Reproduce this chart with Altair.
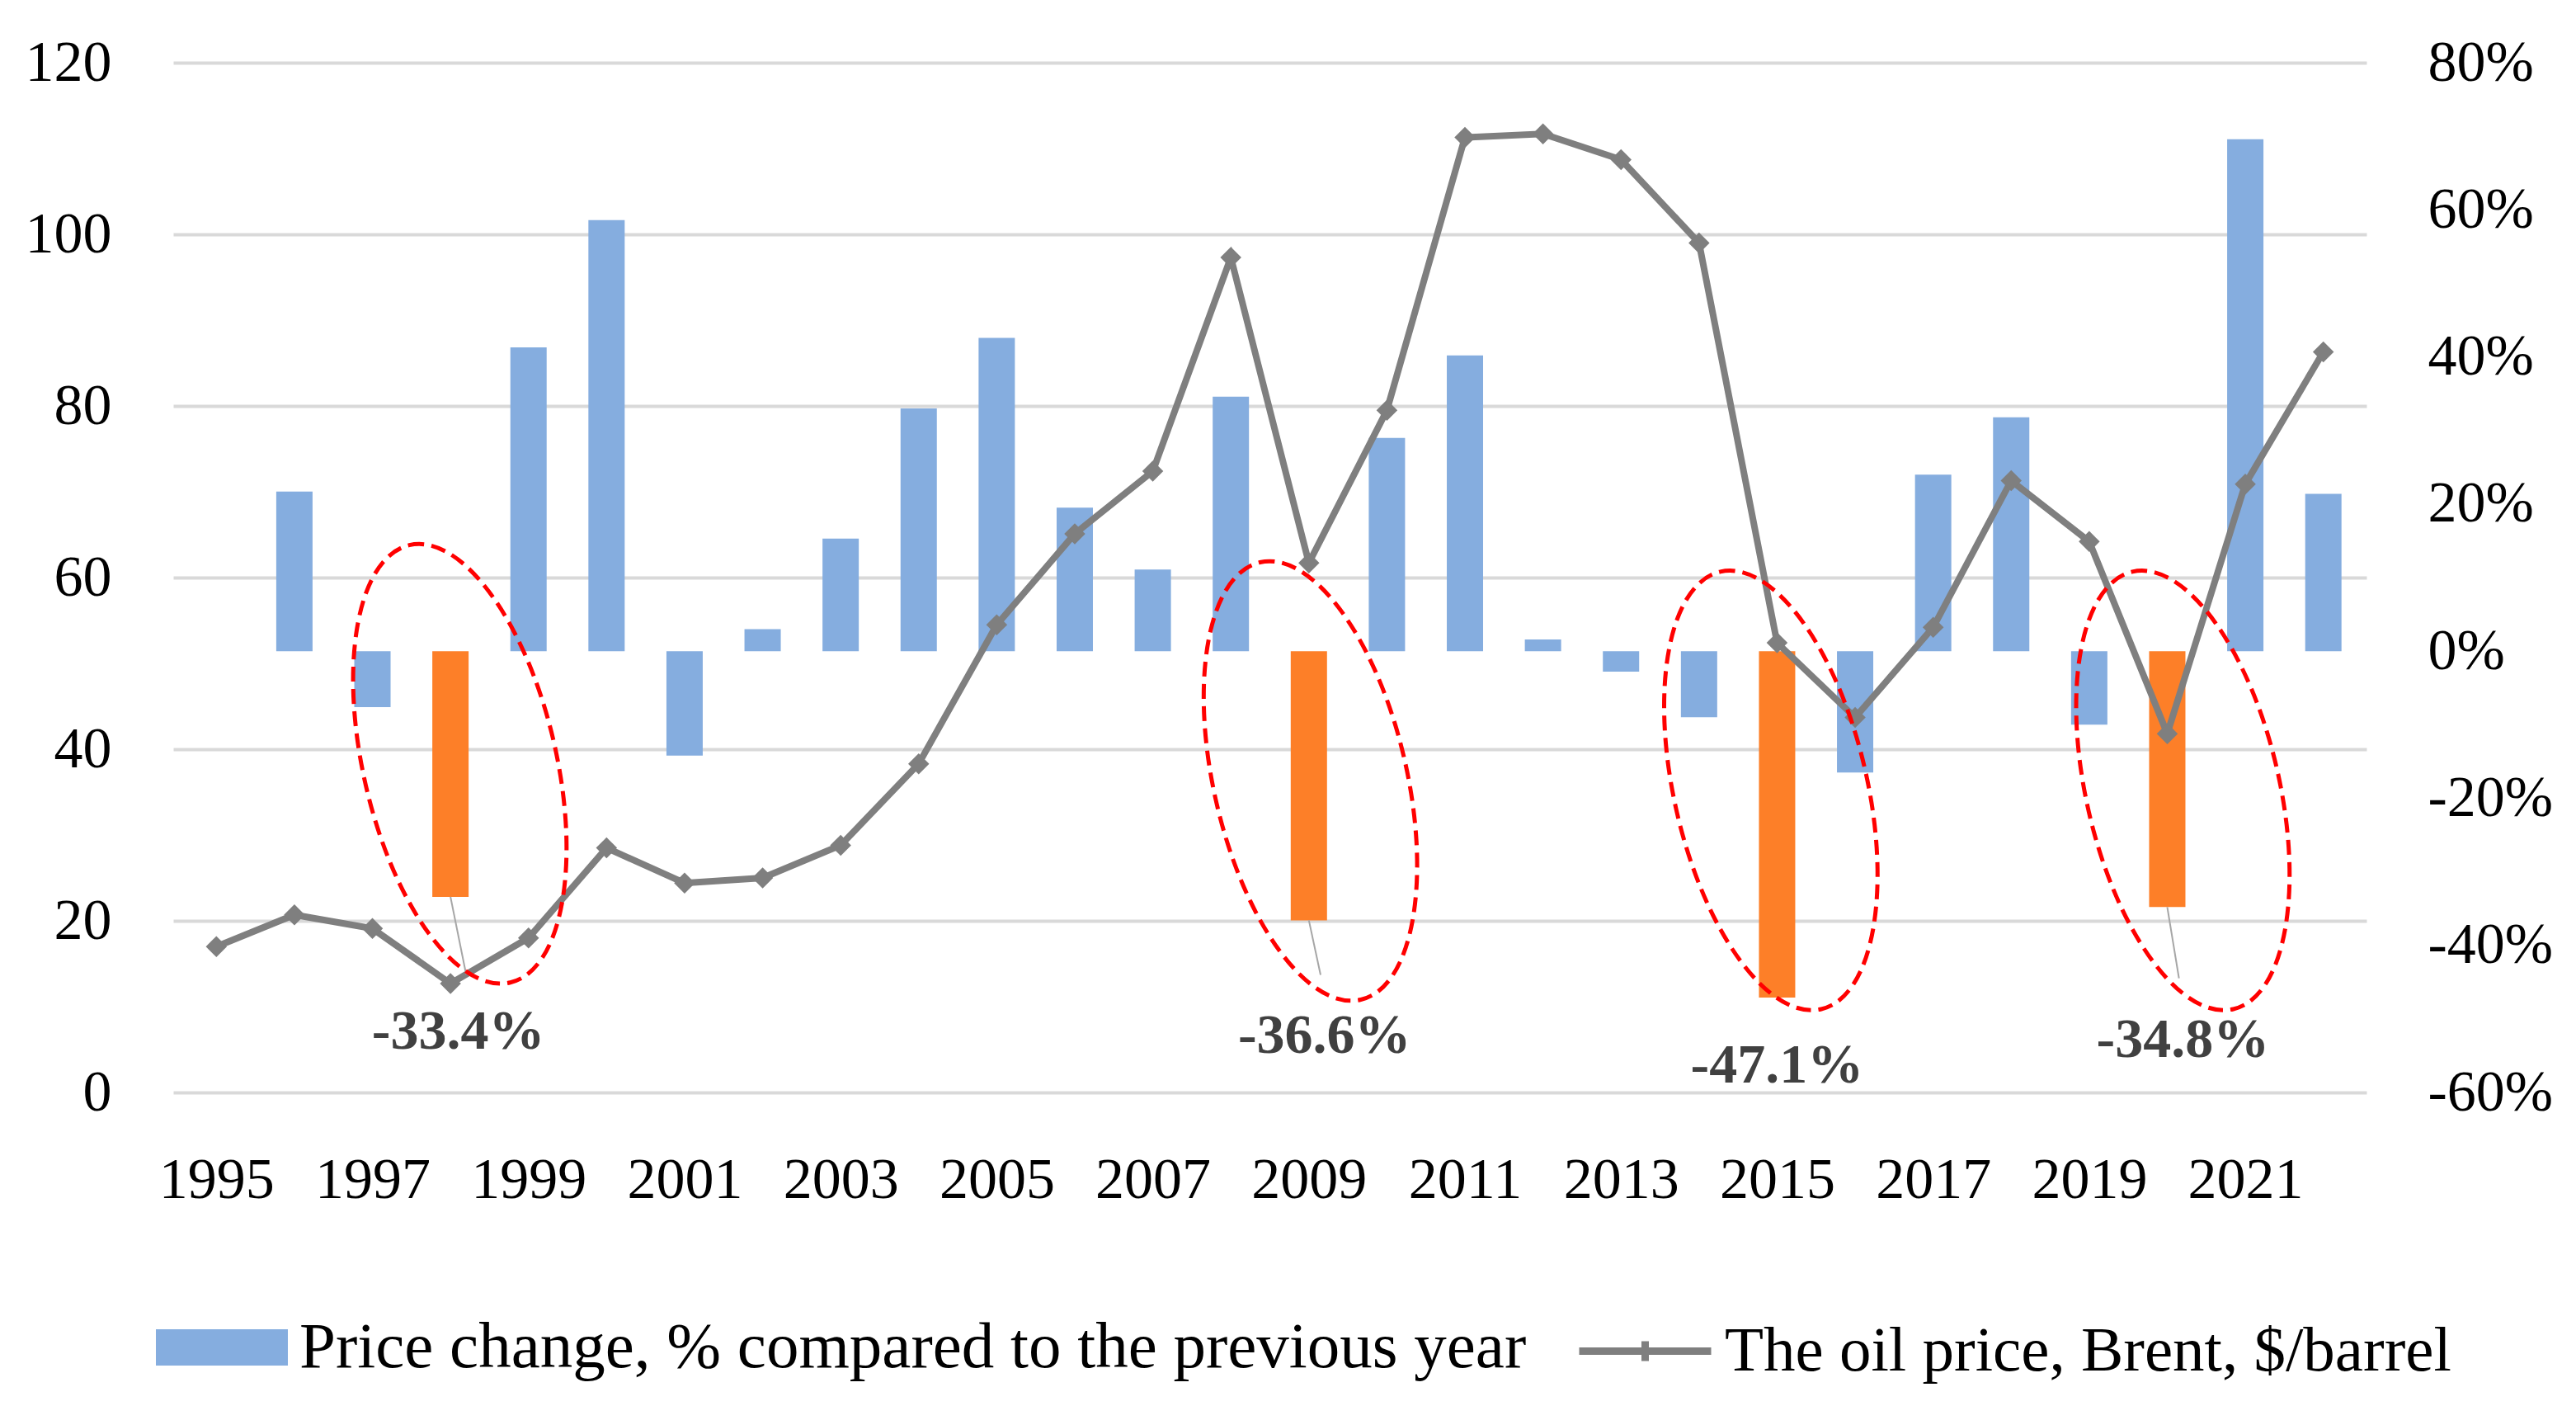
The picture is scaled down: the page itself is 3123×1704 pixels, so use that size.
import altair as alt
import pandas as pd

# ---------------- data ----------------
years = list(range(1995, 2023))
oil_price = [17.0, 20.7, 19.1, 12.7, 18.0, 28.5, 24.4, 25.0, 28.8, 38.3,
             54.5, 65.1, 72.4, 97.3, 61.7, 79.5, 111.3, 111.7, 108.7, 99.0,
             52.4, 43.7, 54.2, 71.3, 64.2, 41.8, 70.9, 86.3]

change_years = list(range(1996, 2023))
price_change = [21.7, -7.6, -33.4, 41.3, 58.6, -14.2, 3.0, 15.3, 33.0, 42.6,
                19.5, 11.1, 34.6, -36.6, 29.0, 40.2, 1.6, -2.8, -9.0, -47.1,
                -16.5, 24.0, 31.8, -10.0, -34.8, 69.6, 21.4]

crisis_years = [1998, 2009, 2015, 2020]
callout_labels = ["-33.4%", "-36.6%", "-47.1%", "-34.8%"]
callout_label_x = [1998.1, 2009.2, 2015.0, 2020.2]
callout_label_y = [7.0, 6.5, 3.1, 6.1]

ellipse_x = [1998.12, 2009.02, 2014.92, 2020.2]
ellipse_y = [38.3, 36.3, 35.2, 35.2]

leader_years = [1998, 2009, 2020]
leader_pct = [-33.4, -36.6, -34.8]
leader_end_x = [1998.2, 2009.15, 2020.15]
leader_end_y = [13.8, 13.7, 13.3]

left_ticks = list(range(0, 121, 20))
right_ticks = list(range(-60, 81, 20))
x_ticks = list(range(1995, 2022, 2))

SERIES_BAR = "Price change, % compared to the previous year"
SERIES_LINE = "The oil price, Brent, $/barrel"

FONT = "Liberation Serif"
BLUE = "#85ADDF"
ORANGE = "#FD7F28"
GRAY = "#7F7F7F"

RECT_PATH = "M-1,-0.275H1V0.275H-1Z"
LINE_PATH = "M-1,0H1M0,-0.15V0.15"
ELLIPSE_PATH = "M0,-1A0.43,1 0 1,1 0,1A0.43,1 0 1,1 0,-1Z"

# ---------------- tables ----------------
bars_df = pd.DataFrame({"year": change_years, "pct": price_change, "series": SERIES_BAR})
line_df = pd.DataFrame({"year": years, "price": oil_price, "series": SERIES_LINE})
call_df = pd.DataFrame({"lx": callout_label_x, "ly": callout_label_y, "label": callout_labels})
ell_df = pd.DataFrame({"ex": ellipse_x, "ey": ellipse_y})
# bar bottom converted from the right (%) scale to the left (price) scale
lead_df = pd.DataFrame({
    "year": leader_years,
    "bottom": [120 * (p + 60) / 140 for p in leader_pct],
    "x2": leader_end_x,
    "y2": leader_end_y,
})

# ---------------- encodings ----------------
def x_enc(field):
    return alt.X(
        f"{field}:Q",
        scale=alt.Scale(domain=[1994.5, 2022.5], nice=False, zero=False),
        axis=alt.Axis(values=x_ticks, format="d", grid=False, domain=False, ticks=False,
                      labelPadding=72, labelFontSize=70, labelFont=FONT, labelColor="#000000",
                      labelFlush=False, title=None),
    )


def y_left(field):
    return alt.Y(
        f"{field}:Q",
        scale=alt.Scale(domain=[0, 120], nice=False, zero=False),
        axis=alt.Axis(orient="left", values=left_ticks, grid=True, gridColor="#D9D9D9", gridWidth=4,
                      domain=False, ticks=False, labelPadding=75, labelFontSize=70, labelFont=FONT,
                      labelColor="#000000", labelFlush=False, title=None),
    )


bar_legend = alt.Legend(
    orient="none", legendX=-21, legendY=1477, direction="horizontal", title=None,
    symbolSize=25600, symbolType=RECT_PATH, labelFont=FONT, labelFontSize=79,
    labelColor="#000000", labelOffset=14, labelLimit=3000, symbolOpacity=1,
    symbolStrokeWidth=0,
)
line_legend = alt.Legend(
    orient="none", legendX=1700, legendY=1477, direction="horizontal", title=None,
    symbolSize=25600, symbolType=LINE_PATH, labelFont=FONT, labelFontSize=77,
    labelColor="#000000", labelOffset=12, labelLimit=3000, symbolStrokeWidth=9,
    symbolOpacity=1,
)

# ---------------- layers ----------------
bars = alt.Chart(bars_df).mark_bar(size=44).encode(
    x=x_enc("year"),
    y=alt.Y("pct:Q", scale=alt.Scale(domain=[-60, 80], nice=False),
            axis=alt.Axis(orient="right", values=right_ticks, labelExpr="datum.value + '%'",
                          grid=False, domain=False, ticks=False, labelPadding=74, labelFontSize=70,
                          labelFont=FONT, labelColor="#000000", labelFlush=False, title=None)),
    fill=alt.condition(
        alt.FieldOneOfPredicate(field="year", oneOf=crisis_years),
        alt.value(ORANGE),
        alt.Fill("series:N", scale=alt.Scale(domain=[SERIES_BAR], range=[BLUE]), legend=bar_legend),
    ),
)

line = alt.Chart(line_df).mark_line(strokeWidth=8).encode(
    x=x_enc("year"), y=y_left("price"),
    stroke=alt.Stroke("series:N", scale=alt.Scale(domain=[SERIES_LINE], range=[GRAY]), legend=line_legend),
)

pts = alt.Chart(line_df).mark_point(shape="diamond", filled=True, size=650, color=GRAY, opacity=1).encode(
    x=x_enc("year"), y=y_left("price"),
)

leaders = alt.Chart(lead_df).mark_rule(color="#A6A6A6", strokeWidth=2).encode(
    x=x_enc("year"), x2="x2:Q", y=y_left("bottom"), y2="y2:Q",
)

ellipses = alt.Chart(ell_df).mark_point(
    shape=ELLIPSE_PATH, size=295936, filled=False, color="#FF0000", strokeWidth=5,
    strokeDash=[18, 9], angle=347, opacity=1,
).encode(x=x_enc("ex"), y=y_left("ey"))

labels = alt.Chart(call_df).mark_text(
    font=FONT, fontSize=68, fontWeight="bold", color="#404040", align="center", baseline="middle",
).encode(x=x_enc("lx"), y=y_left("ly"), text="label:N")

left_group = alt.layer(line, pts, leaders, ellipses, labels)

chart = (
    alt.layer(bars, left_group)
    .resolve_scale(y="independent")
    .properties(
        width=2659, height=1248,
        autosize=alt.AutoSizeParams(type="none"),
        padding={"left": 202, "top": 68, "right": 240, "bottom": 360},
        background="white",
    )
    .configure_view(stroke=None)
)

chart.save("out.html", embed_options={"renderer": "svg", "actions": False})
